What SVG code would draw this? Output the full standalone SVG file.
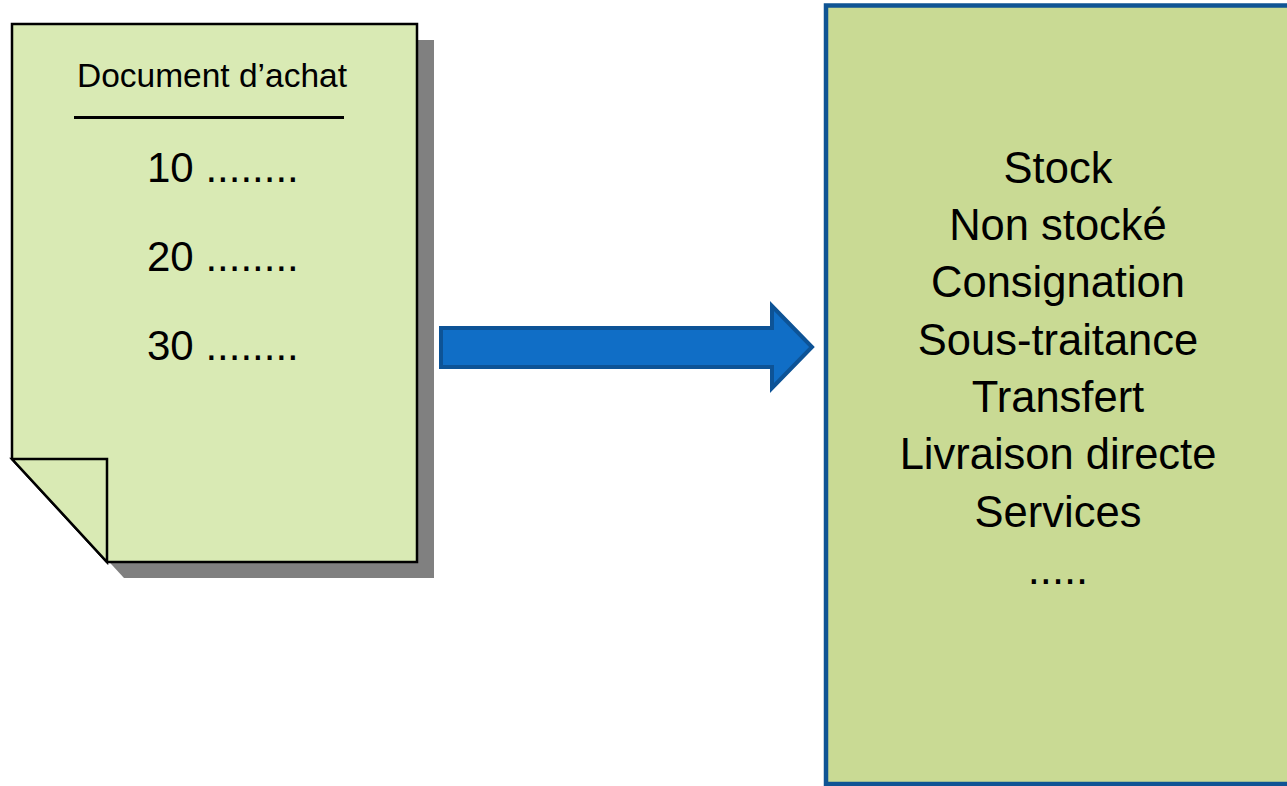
<svg xmlns="http://www.w3.org/2000/svg" width="1287" height="786" viewBox="0 0 1287 786">
<style>
.t{font-family:"Liberation Sans",Arial,sans-serif;fill:#000;}
.big{font-size:42px;}
.r{font-size:43.5px;text-anchor:middle;}
.doc{fill:#D9EAB4;stroke:#000;stroke-width:2.5;stroke-linejoin:miter;}
</style>
<rect width="1287" height="786" fill="#fff"/>
<g id="document">
  <path d="M29,40 H434 V578 H124 L29,475 Z" fill="#808080"/>
  <path class="doc" d="M12,24 H417 V562 H107 L12,459 Z"/>
  <path class="doc" d="M12,459 H107 V562 Z"/>
  <text class="t" x="212" y="87" font-size="33.5" text-anchor="middle">Document d’achat</text>
  <line x1="74" y1="117.5" x2="344" y2="117.5" stroke="#000" stroke-width="3"/>
  <text class="t big" x="147" y="182">10 ........</text>
  <text class="t big" x="147" y="271">20 ........</text>
  <text class="t big" x="147" y="360">30 ........</text>
</g>
<g id="connectors">
  <path d="M441,328 H772 V306 L812,347 L772,388 V367 H441 Z" fill="#106EC6" stroke="#0D5396" stroke-width="4" stroke-linejoin="miter"/>
</g>
<g id="types">
  <rect x="826" y="5.5" width="470" height="778.5" fill="#C9DA94" stroke="#0F5494" stroke-width="4.5"/>
  <text class="t r" x="1058" y="183">Stock</text>
  <text class="t r" x="1058" y="240">Non stocké</text>
  <text class="t r" x="1058" y="297">Consignation</text>
  <text class="t r" x="1058" y="355">Sous-traitance</text>
  <text class="t r" x="1058" y="412">Transfert</text>
  <text class="t r" x="1058" y="469">Livraison directe</text>
  <text class="t r" x="1058" y="527">Services</text>
  <text class="t r" x="1058" y="584">.....</text>
</g>
</svg>
